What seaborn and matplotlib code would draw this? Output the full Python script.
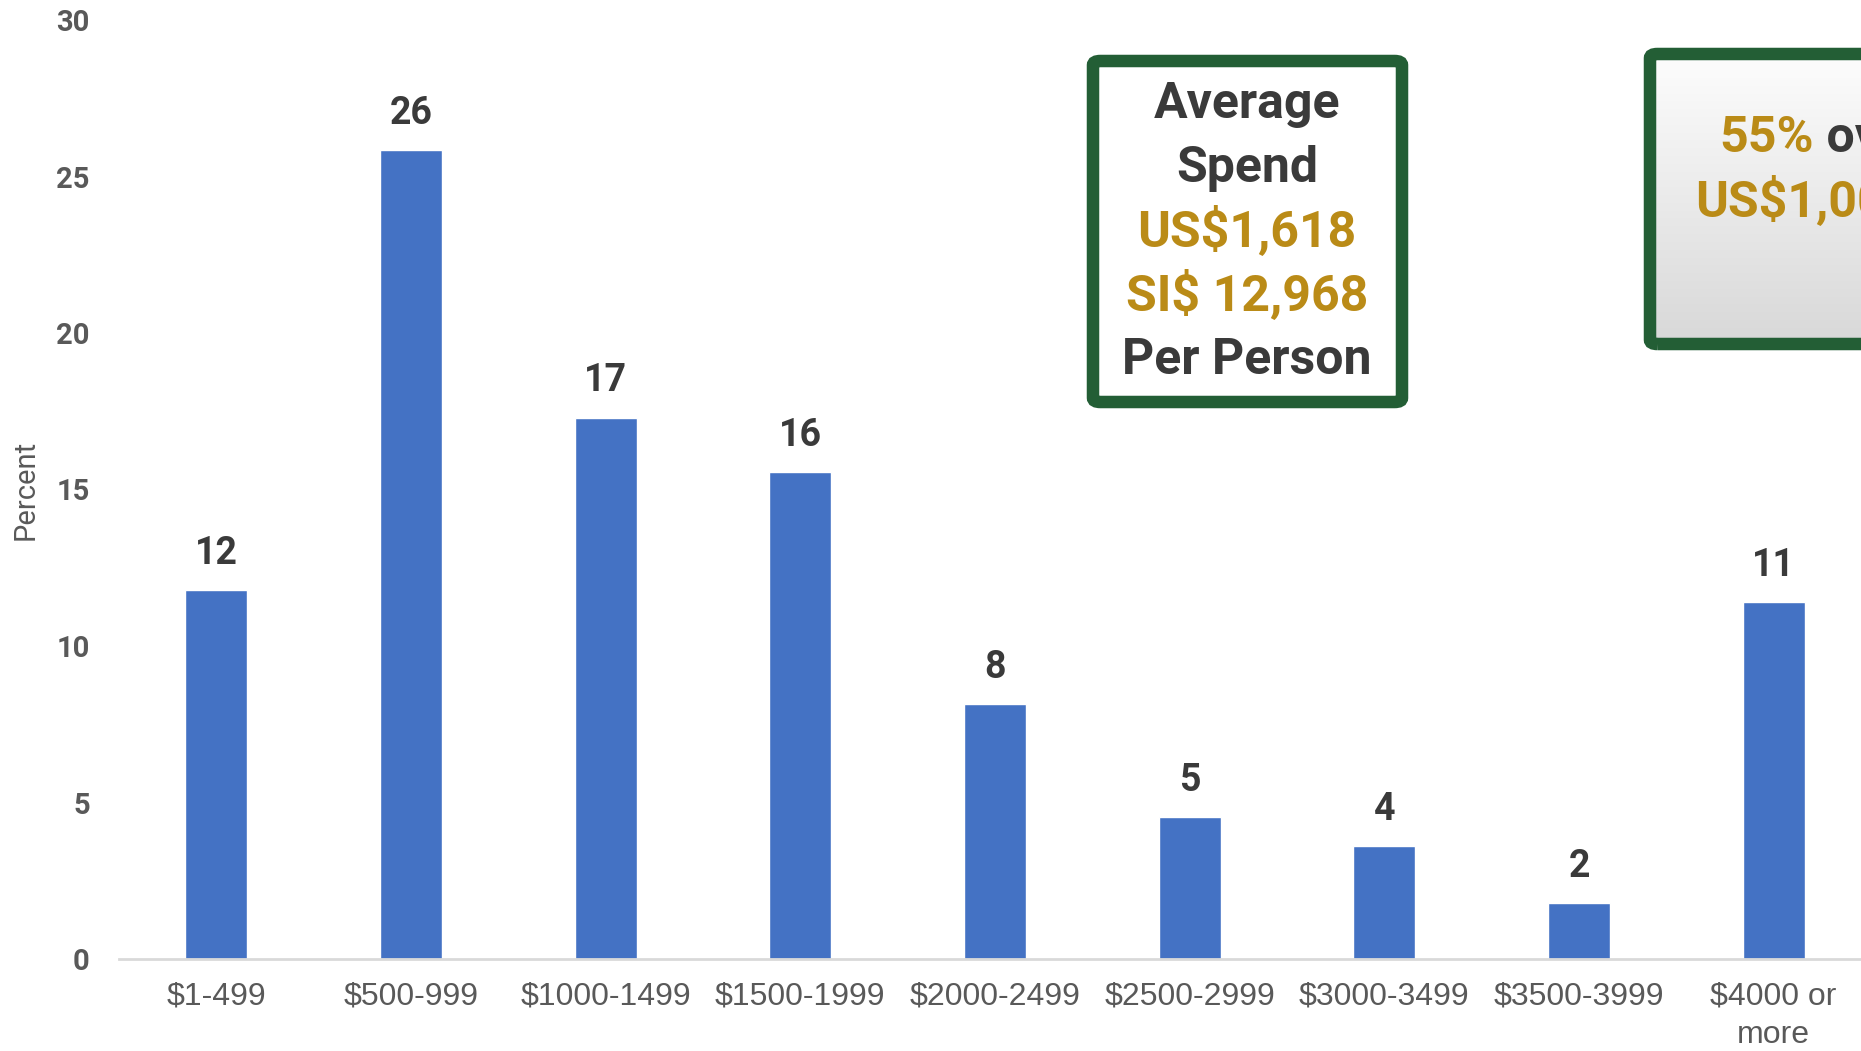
import numpy as np
import matplotlib
matplotlib.use("Agg")
import matplotlib.pyplot as plt
from matplotlib.patches import FancyBboxPatch
import seaborn as sns

# Spending bands and share of respondents (percent)
categories = ["$1-499", "$500-999", "$1000-1499", "$1500-1999", "$2000-2499",
              "$2500-2999", "$3000-3499", "$3500-3999", "$4000 or\nmore"]
percent = [11.8, 25.85, 17.3, 15.55, 8.15, 4.55, 3.6, 1.8, 11.4]
y_ticks = [0, 5, 10, 15, 20, 25, 30]

avg_lines = ["Average", "Spend", "US$1,618", "SI$ 12,968", "Per Person"]
share_lines = [("55%", " over"), ("US$1,000", "")]

BAR = "#4472C4"
GOLD = "#BA8B17"
DARK = "#3A3A3A"
GRAY = "#595959"
GREEN = "#235E35"

sns.set_theme(style="white")
plt.rcParams["font.family"] = ["Roboto", "DejaVu Sans"]

W, H = 1861, 1051
fig = plt.figure(figsize=(W / 100, H / 100), dpi=100)
fig.patch.set_facecolor("white")


def fx(x):
    return x / W


def fy(y):
    return 1 - y / H


# Plot area: left edge at 119 px, baseline at 959 px, top (30) at 20 px
ax = fig.add_axes([fx(119), fy(959), fx(1871) - fx(119), fy(20) - fy(959)])
df = {"band": categories, "pct": percent}
sns.barplot(x="band", y="pct", data=df, color=BAR, saturation=1,
            width=0.317, ax=ax)
ax.set_xlim(-0.5, len(categories) - 0.5)
ax.set_ylim(0, 30)
ax.set_yticks(y_ticks)
ax.set_yticklabels([str(t) for t in y_ticks], color=GRAY, fontsize=21,
                   fontweight="bold")
ax.tick_params(axis="y", length=0, pad=21)
ax.tick_params(axis="x", length=0, pad=16)
for lbl in ax.get_xticklabels():
    lbl.set_fontfamily(["Liberation Sans Narrow", "Liberation Sans", "DejaVu Sans"])
    lbl.set_fontsize(23)
    lbl.set_color(GRAY)
    lbl.set_linespacing(1.4)
ax.set_xlabel("")
ax.set_ylabel("")
for s in ["top", "right", "left"]:
    ax.spines[s].set_visible(False)
ax.spines["bottom"].set_color("#D9D9D9")
ax.spines["bottom"].set_linewidth(2)
ax.grid(False)

ax.bar_label(ax.containers[0], fmt="%.0f", padding=13, fontsize=27,
             fontweight="bold", color=DARK)

fig.text(fx(26), fy(490), "Percent", rotation=90, ha="center", va="center",
         fontsize=21, color=GRAY)

# Average spend box
box1 = FancyBboxPatch((fx(1093), fy(402)), fx(1402) - fx(1093), fy(61) - fy(402),
                      boxstyle="round,pad=0,rounding_size=0.004",
                      transform=fig.transFigure, facecolor="white",
                      edgecolor=GREEN, linewidth=9, zorder=5)
fig.patches.append(box1)
line_colors = [DARK, DARK, GOLD, GOLD, DARK]
y0 = 104
for i, (txt, c) in enumerate(zip(avg_lines, line_colors)):
    fig.text(fx(1247), fy(y0 + i * 64), txt, ha="center", va="center",
             fontsize=36, fontweight="bold", color=c, zorder=6)

# Second box with gradient fill, partly beyond the right edge
gx0, gx1, gy0, gy1 = 1650, 1990, 54, 344
grad_ax = fig.add_axes([fx(gx0), fy(gy1), fx(gx1) - fx(gx0), fy(gy0) - fy(gy1)])
grad = np.linspace(0, 1, 256).reshape(-1, 1)
grad_ax.imshow(grad, aspect="auto", cmap=matplotlib.colors.LinearSegmentedColormap.from_list(
    "g", ["#FDFDFD", "#D8D8D8"]), extent=[0, 1, 0, 1], origin="upper")
grad_ax.set_axis_off()
box2 = FancyBboxPatch((fx(1650), fy(344)), fx(1990) - fx(1650), fy(54) - fy(344),
                      boxstyle="round,pad=0,rounding_size=0.004",
                      transform=fig.transFigure, facecolor="none",
                      edgecolor=GREEN, linewidth=9, zorder=10)
fig.patches.append(box2)

t = fig.text(fx(1719), fy(138), share_lines[0][0], ha="left", va="center",
             fontsize=36, fontweight="bold", color=GOLD, zorder=11)
fig.canvas.draw()
bb = t.get_window_extent()
fig.text(bb.x1 / W, fy(138), share_lines[0][1], ha="left", va="center",
         fontsize=36, fontweight="bold", color=DARK, zorder=11)
fig.text(fx(1695), fy(202), share_lines[1][0], ha="left", va="center",
         fontsize=36, fontweight="bold", color=GOLD, zorder=11)

fig.savefig("out.png", dpi=100, facecolor="white")
